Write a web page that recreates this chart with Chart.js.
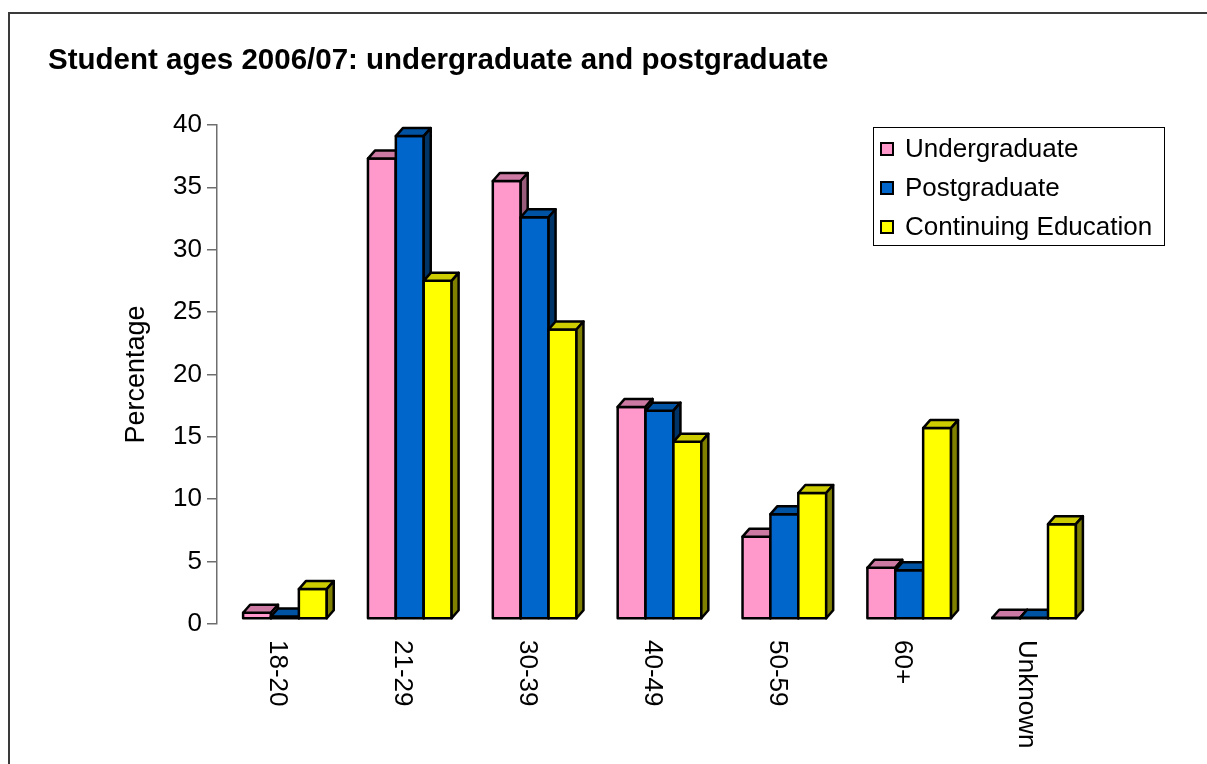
<!DOCTYPE html>
<html>
<head>
<meta charset="utf-8">
<title>Student ages 2006/07</title>
<script src="https://cdn.jsdelivr.net/npm/chart.js@4.4.1/dist/chart.umd.min.js"></script>
<style>
  html, body { margin: 0; padding: 0; background: #fff; }
  canvas { display: block; }
</style>
</head>
<body>
<canvas id="ages" width="1207" height="764"></canvas>
<script>
/* Student ages 2006/07 — 3D-look grouped bars */
const ageGroups = ["18-20", "21-29", "30-39", "40-49", "50-59", "60+", "Unknown"];
const undergraduate = [0.5, 36.9, 35.1, 17.0, 6.6, 4.1, 0.1];
const postgraduate = [0.2, 38.7, 32.2, 16.7, 8.4, 3.9, 0.1];
const continuing = [2.4, 27.1, 23.2, 14.2, 10.1, 15.3, 7.6];
const yTicks = [0, 5, 10, 15, 20, 25, 30, 35, 40];

const FONT = '"Liberation Sans", Arial, Helvetica, sans-serif';

// front / top / side shades per series
const shades = [
  { front: "#FF99CC", top: "#CC7AA3", side: "#995C7A" },
  { front: "#0066CC", top: "#0052A3", side: "#003366" },
  { front: "#FFFF00", top: "#CCCC00", side: "#808000" },
];

// ---------- 3D bar faces ----------
const DEPTH_X = 7, DEPTH_Y = 8;       // top/side face offset
const SHIFT_X = 5.5, SHIFT_Y = -5;    // bars sit mid-way into the floor

const bars3d = {
  id: "bars3d",
  beforeDatasetsDraw(chart) {
    const ctx = chart.ctx;
    const face = (pts, fill) => {
      ctx.beginPath();
      ctx.moveTo(pts[0][0], pts[0][1]);
      for (let k = 1; k < pts.length; k++) ctx.lineTo(pts[k][0], pts[k][1]);
      ctx.closePath();
      ctx.fillStyle = fill;
      ctx.fill();
      ctx.stroke();
    };
    ctx.save();
    ctx.translate(SHIFT_X, SHIFT_Y);
    ctx.lineWidth = 2.5;
    ctx.strokeStyle = "#000";
    ctx.lineJoin = "round";
    // category by category so each bar hides the side of the one before it
    chart.data.labels.forEach((_, i) => {
      chart.data.datasets.forEach((ds, d) => {
        const bar = chart.getDatasetMeta(d).data[i];
        const { x, y, base, width } = bar.getProps(["x", "y", "base", "width"], true);
        const l = x - width / 2, r = x + width / 2;
        const s = shades[d];
        face([[l, base], [l, y], [r, y], [r, base]], s.front);
        face([[l, y], [l + DEPTH_X, y - DEPTH_Y], [r + DEPTH_X, y - DEPTH_Y], [r, y]], s.top);
        face([[r, y], [r + DEPTH_X, y - DEPTH_Y], [r + DEPTH_X, base - DEPTH_Y], [r, base]], s.side);
      });
    });
    ctx.restore();
    return false;
  },
};

// ---------- frame, rotated category labels, legend ----------
const decorations = {
  id: "decorations",
  beforeDraw(chart) {
    const ctx = chart.ctx;
    ctx.save();
    ctx.strokeStyle = "#3a3a3a";
    ctx.lineWidth = 2;
    ctx.strokeRect(9, 13, 1300, 900);
    ctx.restore();
  },
  afterDraw(chart) {
    const ctx = chart.ctx;
    const xs = chart.scales.x;
    ctx.save();
    ctx.fillStyle = "#000";
    ctx.font = "26px " + FONT;
    ctx.textAlign = "left";
    ctx.textBaseline = "middle";
    chart.data.labels.forEach((lab, i) => {
      ctx.save();
      ctx.translate(xs.getPixelForValue(i) - 2, 640);
      ctx.rotate(Math.PI / 2);
      ctx.fillText(lab, 0, 0);
      ctx.restore();
    });

    // legend
    ctx.lineWidth = 1;
    ctx.strokeStyle = "#000";
    ctx.strokeRect(873.5, 127.5, 291, 118);
    chart.data.datasets.forEach((ds, d) => {
      const cy = 149 + d * 39;
      ctx.fillStyle = shades[d].front;
      ctx.fillRect(881, cy - 6, 12, 12);
      ctx.lineWidth = 2;
      ctx.strokeRect(881, cy - 6, 12, 12);
      ctx.fillStyle = "#000";
      ctx.fillText(ds.label, 905, cy + 1);
    });
    ctx.restore();
  },
};

new Chart(document.getElementById("ages"), {
  type: "bar",
  data: {
    labels: ageGroups,
    datasets: [
      { label: "Undergraduate", data: undergraduate, backgroundColor: shades[0].front },
      { label: "Postgraduate", data: postgraduate, backgroundColor: shades[1].front },
      { label: "Continuing Education", data: continuing, backgroundColor: shades[2].front },
    ],
  },
  options: {
    responsive: false,
    animation: false,
    categoryPercentage: 0.67,
    barPercentage: 1.0,
    layout: { padding: { left: 48, right: 116, top: 0, bottom: 132 } },
    plugins: {
      legend: { display: false },
      tooltip: { enabled: false },
      title: {
        display: true,
        text: "Student ages 2006/07: undergraduate and postgraduate",
        align: "start",
        color: "#000",
        font: { family: FONT, size: 29.5, weight: "bold" },
        padding: { top: 43, bottom: 46.5 },
      },
    },
    scales: {
      x: {
        grid: { display: false },
        border: { display: false },
        ticks: { display: false },
      },
      y: {
        min: 0,
        max: 40,
        afterBuildTicks: (s) => { s.ticks = yTicks.map((v) => ({ value: v })); },
        afterFit: (s) => { s.width = 169; },
        ticks: { color: "#000", padding: 5, font: { family: FONT, size: 26 } },
        grid: { drawOnChartArea: false, tickLength: 10, color: "#6e6e6e", lineWidth: 1.5 },
        border: { color: "#6e6e6e", width: 1.5 },
        title: {
          display: true,
          text: "Percentage",
          color: "#000",
          font: { family: FONT, size: 27 },
          padding: { top: 72, bottom: 0 },
        },
      },
    },
  },
  plugins: [bars3d, decorations],
});
</script>
</body>
</html>
